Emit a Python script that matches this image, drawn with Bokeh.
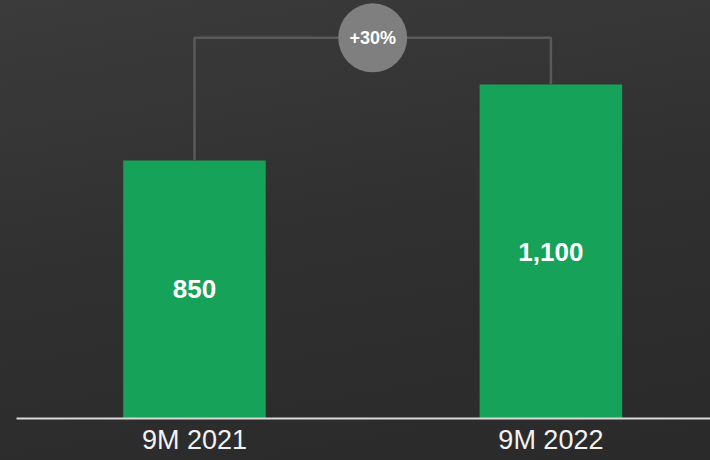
from bokeh.plotting import figure
from bokeh.models import Range1d, FixedTicker, ColumnDataSource
from bokeh.core.properties import value
from bokeh.embed import file_html
from bokeh.resources import INLINE

# ---- data ----
categories = ["9M 2021", "9M 2022"]
values = [850, 1100]
change_label = "+30%"

# ---- style ----
BAR_COLOR = "#16a259"
FONT = "Liberation Sans"

xs = list(range(len(categories)))

p = figure(width=710, height=460, output_backend="svg", toolbar_location=None,
           x_range=Range1d(-0.4994, 1.4478), y_range=Range1d(0, 1377),
           min_border_left=16, min_border_right=0, min_border_top=0, min_border_bottom=42)
p.background_fill_alpha = 0
p.border_fill_alpha = 0
p.outline_line_color = None
p.styles = {"background": "linear-gradient(170deg, #3b3b3b 0%, #2f2f2f 55%, #2a2a2a 100%)"}
p.grid.visible = False
p.yaxis.visible = False

ax = p.xaxis[0]
ax.ticker = FixedTicker(ticks=xs)
ax.major_label_overrides = {i: c for i, c in zip(xs, categories)}
ax.major_tick_line_color = None
ax.minor_tick_line_color = None
ax.major_tick_out = 0
ax.major_tick_in = 0
ax.axis_line_color = "#d9d9d9"
ax.axis_line_width = 2
ax.major_label_standoff = 6
ax.major_label_text_font = FONT
ax.major_label_text_font_size = "27px"
ax.major_label_text_color = "#f2f2f2"

src = ColumnDataSource(dict(x=xs, top=values, mid=[v / 2 for v in values],
                            label=[f"{v:,}" for v in values]))
p.vbar(x="x", top="top", width=0.4, source=src, fill_color=BAR_COLOR, line_color=None)
p.text(x="x", y="mid", text="label", source=src, text_font=value(FONT),
       text_font_style="bold", text_font_size="26px", text_color="white",
       text_align="center", text_baseline="middle")

# bracket
top = max(values) * 1.14
bx = [xs[0], xs[0], xs[1], xs[1]]
by = [values[0], top, top, values[1]]
p.line(bx, by, line_color="#5a5a5a", line_width=2.5)
mid_x = (xs[0] + xs[1]) / 2
p.scatter([mid_x], [top], size=69, marker="circle", fill_color="#7f7f7f", line_color=None)
p.text([mid_x], [top], text=[change_label], text_font=value(FONT), text_font_style="bold",
       text_font_size="18px", text_color="white", text_align="center", text_baseline="middle")

open("out.html", "w").write(file_html(p, INLINE))
